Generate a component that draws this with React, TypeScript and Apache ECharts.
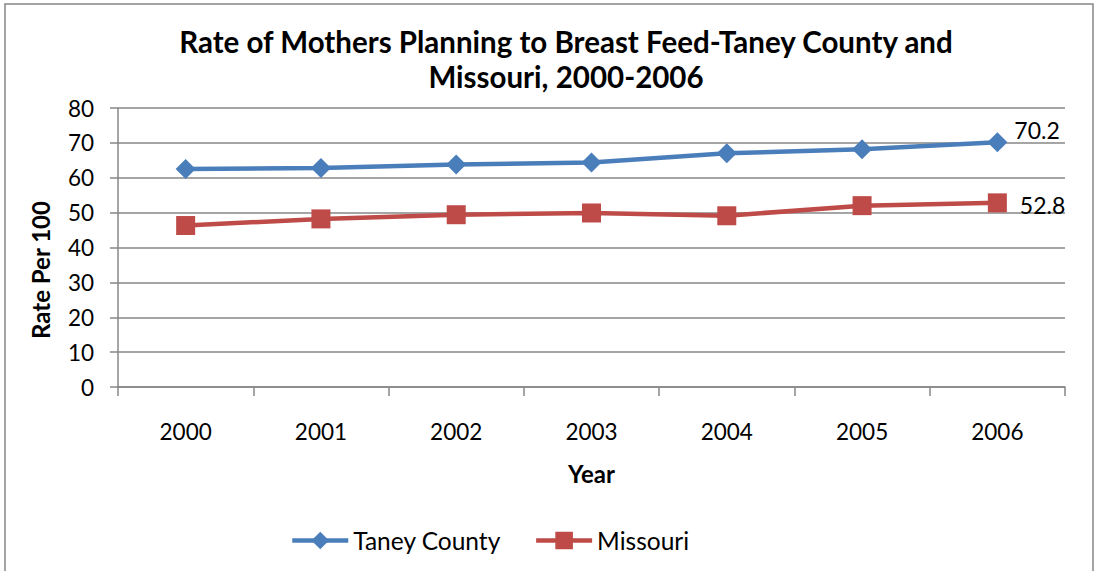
import React, { useEffect, useRef } from "react";
import * as echarts from "echarts";

const years = ["2000", "2001", "2002", "2003", "2004", "2005", "2006"];
const taneyCounty = [62.5, 62.8, 63.8, 64.4, 67.0, 68.2, 70.2];
const missouri = [46.3, 48.2, 49.4, 49.9, 49.1, 52.0, 52.8];
const yTicks = { min: 0, max: 80, interval: 10 };

const FONT = "Lato, 'Open Sans', sans-serif";

export default function App() {
  const ref = useRef<HTMLDivElement>(null);
  useEffect(() => {
    if (!ref.current) return;
    const chart = echarts.init(ref.current, undefined, { renderer: "svg" });
    const lastLabel = (dx: number, dy: number) => ({
      show: true,
      position: "right",
      offset: [dx, dy],
      fontSize: 23,
      fontFamily: FONT,
      color: "#000",
      formatter: (p: any) => (p.dataIndex === years.length - 1 ? Number(p.value).toFixed(1) : ""),
    });
    chart.setOption({
      animation: false,
      backgroundColor: "#fff",
      textStyle: { fontFamily: FONT },
      title: {
        text: "Rate of Mothers Planning to Breast Feed-Taney County and\nMissouri, 2000-2006",
        left: 561,
        textAlign: "center",
        top: 19,
        textStyle: { fontSize: 29.5, fontWeight: "bold", fontFamily: FONT, color: "#000", lineHeight: 35 },
      },
      graphic: [
        {
          type: "rect",
          shape: { x: 5, y: 4, width: 1088, height: 600 },
          style: { fill: "none", stroke: "#878787", lineWidth: 1.5 },
          silent: true,
        },
        {
          type: "text",
          x: 40,
          y: 270,
          rotation: Math.PI / 2,
          style: {
            text: "Rate Per 100",
            fontSize: 24,
            fontWeight: "bold",
            fontFamily: FONT,
            fill: "#000",
            align: "center",
            verticalAlign: "middle",
          },
        },
      ],
      legend: {
        top: 523,
        left: 285,
        itemWidth: 56,
        itemHeight: 22,
        itemGap: 33,
        textStyle: { fontSize: 24.5, fontFamily: FONT, color: "#000" },
        lineStyle: { width: 4.5 },
        data: ["Taney County", "Missouri"],
      },
      grid: { left: 118, right: 35, top: 108, bottom: 184 },
      xAxis: {
        type: "category",
        data: years,
        boundaryGap: true,
        name: "Year",
        nameLocation: "middle",
        nameGap: 74,
        nameTextStyle: { fontSize: 24, fontWeight: "bold", fontFamily: FONT, color: "#000" },
        axisLine: { lineStyle: { color: "#878787", width: 1.5 } },
        axisTick: { show: true, length: 9, alignWithLabel: false, lineStyle: { color: "#878787", width: 1.5 } },
        axisLabel: { fontSize: 22.5, fontFamily: FONT, color: "#000", margin: 33 },
      },
      yAxis: {
        type: "value",
        min: yTicks.min,
        max: yTicks.max,
        interval: yTicks.interval,
        axisLine: { show: true, lineStyle: { color: "#878787", width: 1.5 } },
        axisTick: { show: true, length: 8, lineStyle: { color: "#878787", width: 1.5 } },
        axisLabel: { fontSize: 22.5, fontFamily: FONT, color: "#000", margin: 24 },
        splitLine: { show: true, lineStyle: { color: "#878787", width: 1.5 } },
      },
      series: [
        {
          name: "Taney County",
          type: "line",
          data: taneyCounty,
          symbol: "diamond",
          symbolSize: 20,
          itemStyle: { color: "#4A7EBB" },
          lineStyle: { color: "#4A7EBB", width: 4.5 },
          label: lastLabel(2, -12),
        },
        {
          name: "Missouri",
          type: "line",
          data: missouri,
          symbol: "rect",
          symbolSize: 19,
          itemStyle: { color: "#BE4B48" },
          lineStyle: { color: "#BE4B48", width: 4.5 },
          label: lastLabel(8, 2),
        },
      ],
    });
    return () => chart.dispose();
  }, []);
  return (
    <div
      ref={ref}
      style={{ position: "fixed", left: 0, top: 0, width: 1100, height: 571 }}
    />
  );
}
